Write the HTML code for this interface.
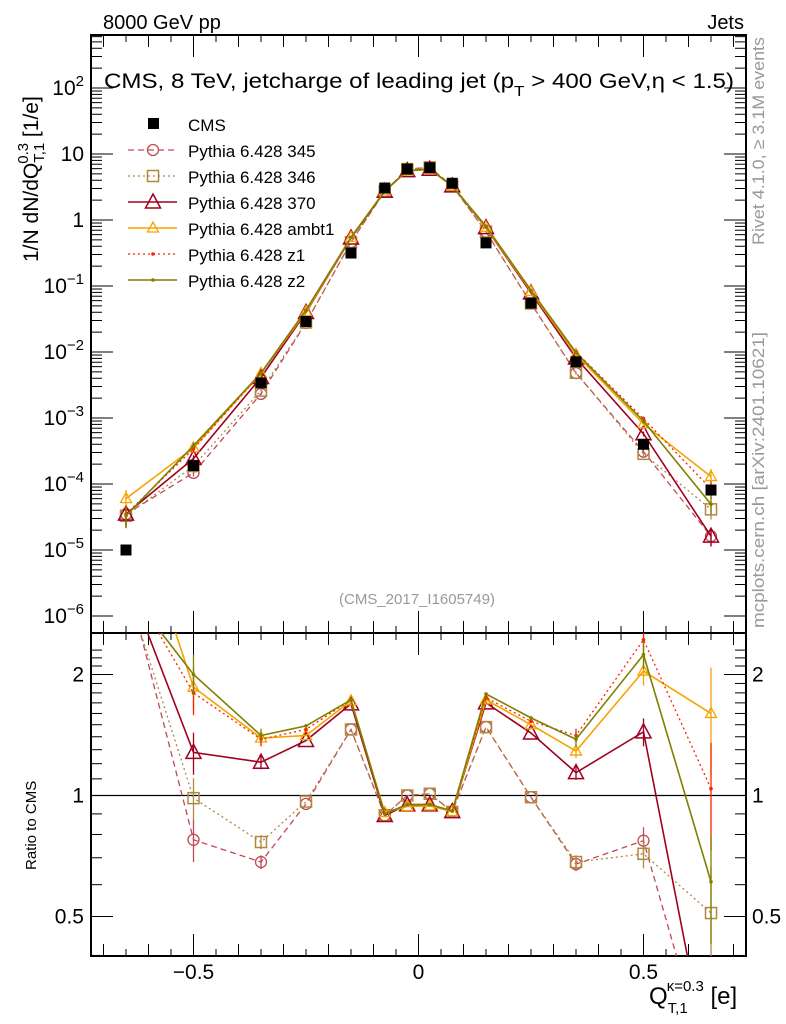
<!DOCTYPE html>
<html><head><meta charset="utf-8"><style>
body{margin:0;background:#fff;overflow:hidden;}
svg{display:block;font-family:"Liberation Sans",sans-serif;}
</style></head><body>
<svg id="c" width="786" height="1024" xmlns="http://www.w3.org/2000/svg">
<rect x="0" y="0" width="786" height="1024" fill="#fff"/>
<text x="103" y="29" font-size="20">8000 GeV pp</text>
<text x="744" y="29" font-size="20" text-anchor="end">Jets</text>
<text x="104" y="88" font-size="21" textLength="630" lengthAdjust="spacingAndGlyphs">CMS, 8 TeV, jetcharge of leading jet (p<tspan font-size="15" dy="8">T</tspan><tspan dy="-8"> &gt; 400 GeV,η &lt; 1.5)</tspan></text>
<text transform="translate(38,262) rotate(-90)" font-size="21">1/N dN/dQ<tspan font-size="15" dy="6">T,1</tspan><tspan font-size="15" dx="-21" dy="-16">0.3</tspan><tspan dy="10"> [1/e]</tspan></text>
<text transform="translate(36,870) rotate(-90)" font-size="15">Ratio to CMS</text>
<text transform="translate(764,245) rotate(-90)" font-size="17" fill="#999" textLength="208" lengthAdjust="spacingAndGlyphs">Rivet 4.1.0, ≥ 3.1M events</text>
<text transform="translate(764,628) rotate(-90)" font-size="17" fill="#999" textLength="296" lengthAdjust="spacingAndGlyphs">mcplots.cern.ch [arXiv:2401.10621]</text>
<text x="417" y="604" font-size="15" fill="#999" text-anchor="middle">(CMS_2017_I1605749)</text>
<text x="649" y="1004" font-size="24">Q<tspan font-size="15" dy="9">T,1</tspan><tspan font-size="15" dx="-21" dy="-22">κ=0.3</tspan><tspan dy="13"> [e]</tspan></text>
<g id="g"></g>
</svg>
<script>
const xs=[-0.65,-0.5,-0.35,-0.25,-0.15,-0.075,-0.025,0.025,0.075,0.15,0.25,0.35,0.5,0.65];
const cms=[1.0e-5,1.9e-4,3.4e-3,0.029,0.316,3.05,5.9,6.2,3.6,0.45,0.055,7.1e-3,4.0e-4,8.1e-5];
const r345=[3.5,0.776,0.683,0.953,1.46,0.892,1.0,1.01,0.912,1.48,0.99,0.675,0.772,0.2];
const r346=[3.3,0.985,0.766,0.966,1.46,0.893,1.0,1.01,0.91,1.48,0.99,0.683,0.716,0.51];
const r370=[3.5,1.28,1.21,1.37,1.69,0.892,0.948,0.948,0.912,1.70,1.43,1.14,1.44,0.2];
const rambt1=[6.0,1.86,1.39,1.41,1.72,0.907,0.939,0.942,0.912,1.73,1.50,1.29,2.04,1.60];
const rz1=[3.5,1.80,1.38,1.46,1.73,0.90,0.95,0.95,0.915,1.75,1.53,1.41,2.44,1.04];
const rz2=[3.3,2.0,1.41,1.49,1.73,0.90,0.95,0.95,0.915,1.79,1.56,1.38,2.24,0.61];
const relErr=[0.35,0.12,0.04,0.02,0.01,0.005,0.005,0.005,0.005,0.01,0.02,0.04,0.08,0.3];
const yTickLabels=["10⁻⁶","10⁻⁵","10⁻⁴","10⁻³","10⁻²","10⁻¹","1","10","10²"];
const rTickVals=[0.5,1,2];
const rTickLabels=["0.5","1","2"];
const xTickVals=[-0.5,0,0.5];
const xTickLabels=["−0.5","0","0.5"];

const NS="http://www.w3.org/2000/svg";
const G=document.getElementById('g');
const L=91,R=746,T=35,M=633,B=956;
const X=v=>418.5+450*v;
const Y=v=>220-66*Math.log10(v);
const YR=v=>795.5-121*Math.log2(v);
function mk(tag,a,p){const e=document.createElementNS(NS,tag);for(const k in a)e.setAttribute(k,a[k]);(p||G).appendChild(e);return e;}

const defs=mk('defs',{});
const c1=mk('clipPath',{id:'cTop'},defs);mk('rect',{x:L,y:T,width:R-L,height:M-T},c1);
const c2=mk('clipPath',{id:'cBot'},defs);mk('rect',{x:L,y:M,width:R-L,height:B-M},c2);

let f1=mk('rect',{x:L,y:T,width:R-L,height:M-T,fill:'none',stroke:'#000','stroke-width':2});


let f2=mk('rect',{x:L,y:M,width:R-L,height:B-M,fill:'none',stroke:'#000','stroke-width':2});



const tk=mk('g',{stroke:'#000','stroke-width':1});


for(let i=-14;i<=14;i++){const v=i*0.05;const x=X(v);if(x<L||x>R)continue;
 const len=(i%10===0)?22:(i%2===0?12:7);
 [T,M].forEach(y0=>mk('line',{x1:x,x2:x,y1:y0,y2:y0+len},tk));
 [M,B].forEach(y0=>mk('line',{x1:x,x2:x,y1:y0,y2:y0-len},tk));
}
xTickVals.forEach((v,i)=>{const t=mk('text',{x:X(v),y:979,'font-size':21,'text-anchor':'middle'});t.textContent=xTickLabels[i];
 
 });

const yt=mk('g',{stroke:'#000','stroke-width':1});


for(let d=-6;d<=2;d++){for(let m=1;m<=9;m++){const v=m*Math.pow(10,d);const y=Y(v);if(y<T||y>M)continue;
 const len=m===1?22:11;mk('line',{x1:L,x2:L+len,y1:y,y2:y},yt);mk('line',{x1:R,x2:R-len,y1:y,y2:y},yt);}}
yTickLabels.forEach((s,i)=>{const d=i-6;const y=Y(Math.pow(10,d));const t=mk('text',{x:84,y:y+7,'font-size':21,'text-anchor':'end'});
 if(d===0||d===1)t.textContent=s;else{t.textContent='10';const sp=mk('tspan',{'font-size':15,dy:-9},t);sp.textContent=(d<0?'−'+(-d):String(d));}
 
 });

for(let k=0;k<=40;k++){const v=0.3+k*0.05;const y=YR(v);if(y<M||y>B)continue;
 const major=Math.abs(v-0.5)<1e-6||Math.abs(v-1)<1e-6||Math.abs(v-2)<1e-6;const minor10=Math.abs(v*10-Math.round(v*10))<1e-6;
 if(!minor10)continue;const len=major?22:11;mk('line',{x1:L,x2:L+len,y1:y,y2:y},yt);mk('line',{x1:R,x2:R-len,y1:y,y2:y},yt);}
rTickVals.forEach((v,i)=>{[84,752].forEach((x,j)=>{const t=mk('text',{x:x,y:YR(v)+7,'font-size':21,'text-anchor':j?'start':'end'});t.textContent=rTickLabels[i];
 
 });});
const one=mk('line',{x1:L,x2:R,y1:YR(1),y2:YR(1),stroke:'#000','stroke-width':1.2});



const series=[
 {name:'345',r:r345,col:'#c04858',dash:'6,4',mk:'circle',w:1.3},
 {name:'346',r:r346,col:'#b08840',dash:'2,3',mk:'square',w:1.3},
 {name:'370',r:r370,col:'#a00020',dash:'',mk:'tri',w:1.6},
 {name:'ambt1',r:rambt1,col:'#f5a300',dash:'',mk:'stri',w:1.6},
 {name:'z1',r:rz1,col:'#ff2000',dash:'2,3',mk:'dot',w:1.3},
 {name:'z2',r:rz2,col:'#7f7f00',dash:'',mk:'dot',w:1.6}
];
function marker(p,type,x,y,col){
 if(type==='circle')return mk('circle',{cx:x,cy:y,r:5.5,fill:'none',stroke:col,'stroke-width':1.3},p);
 if(type==='square')return mk('rect',{x:x-5.5,y:y-5.5,width:11,height:11,fill:'none',stroke:col,'stroke-width':1.5},p);
 if(type==='tri')return mk('polygon',{points:`${x},${y-8} ${x-7.5},${y+6} ${x+7.5},${y+6}`,fill:'none',stroke:col,'stroke-width':1.5},p);
 if(type==='stri')return mk('polygon',{points:`${x},${y-6} ${x-5.5},${y+4} ${x+5.5},${y+4}`,fill:'none',stroke:col,'stroke-width':1.3},p);
 return mk('circle',{cx:x,cy:y,r:1.8,fill:col},p);
}
series.forEach(s=>{
 const top=mk('g',{'clip-path':'url(#cTop)'});
 
 
 const bot=mk('g',{'clip-path':'url(#cBot)'});
 
 
 const vals=s.r.map((r,i)=>r*cms[i]);
 mk('polyline',{points:xs.map((x,i)=>X(x)+','+Y(vals[i])).join(' '),fill:'none',stroke:s.col,'stroke-width':s.w,'stroke-dasharray':s.dash},top);
 mk('polyline',{points:xs.map((x,i)=>X(x)+','+YR(s.r[i])).join(' '),fill:'none',stroke:s.col,'stroke-width':s.w,'stroke-dasharray':s.dash},bot);
 xs.forEach((x,i)=>{
  const e=relErr[i];
  if(e>0.03){
   if(s.r[i]<2.6)mk('line',{x1:X(x),x2:X(x),y1:YR(s.r[i]*(1+e)),y2:YR(s.r[i]*(1-e)),stroke:s.col,'stroke-width':1.3},bot);
   mk('line',{x1:X(x),x2:X(x),y1:Y(vals[i]*(1+e)),y2:Y(vals[i]*(1-e)),stroke:s.col,'stroke-width':1.3},top);}
  let m1=marker(top,s.mk,X(x),Y(vals[i]),s.col);
  
  
  let m2=marker(bot,s.mk,X(x),YR(s.r[i]),s.col);
  
  
 });
});
const cg=mk('g',{'clip-path':'url(#cTop)'});


xs.forEach((x,i)=>{const r=mk('rect',{x:X(x)-5.5,y:Y(cms[i])-5.5,width:11,height:11,fill:'#000'},cg);
 
 });

const lg=mk('g',{});


const ly0=124,ld=26;
mk('rect',{x:148,y:ly0-6,width:11,height:11,fill:'#000'},lg);
let lt=mk('text',{x:188,y:ly0+7,'font-size':17},lg);lt.textContent='CMS';


series.forEach((s,i)=>{const y=ly0+ld*(i+1);
 mk('line',{x1:128,x2:177,y1:y,y2:y,stroke:s.col,'stroke-width':s.w,'stroke-dasharray':s.dash},lg);
 marker(lg,s.mk,153,y,s.col);
 const t=mk('text',{x:188,y:y+7,'font-size':17},lg);t.textContent='Pythia 6.428 '+s.name;
 
 
});
</script>
</body></html>
